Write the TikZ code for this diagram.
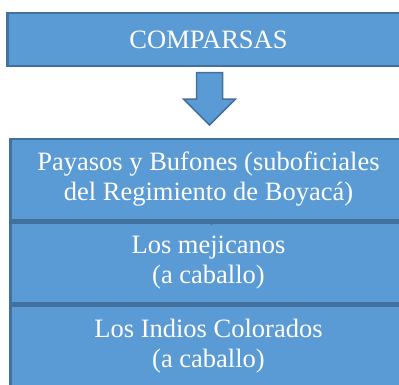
\documentclass[tikz,border=0pt]{standalone}
\usepackage{fontspec}
\setmainfont{Liberation Serif}
\newfontfamily\timesfont{Liberation Serif}
\usetikzlibrary{positioning}
\definecolor{azul}{HTML}{5B9BD5}
\definecolor{borde}{HTML}{41719C}

\begin{document}
\begin{tikzpicture}[x=1pt,y=-1pt,
        caja/.style={draw=borde,
            fill=azul,
            line width=2.5pt,
            text=white,
            align=center,
            minimum width=396pt,
            font=\timesfont\fontsize{26.5}{30}\selectfont}]

        \useasboundingbox (0,0) rectangle (399,384);
        \clip (0,0) rectangle (399,384);

        % Title box
        \node [caja,
            minimum width=402pt,
            minimum height=53pt] (comparsas) at (208.5,39.5) {COMPARSAS};

        % Down arrow
        \draw [draw=borde, fill=azul, line width=1.5pt, line join=miter]
            (196.5,72.5) -- (222.5,72.5) -- (222.5,99) -- (235.5,99)
            -- (209.5,125) -- (183.5,99) -- (196.5,99) -- cycle;

        % List of comparsas
        \node [caja,
            minimum height=81pt,
            anchor=north] (payasos) at (208.5,137.5)
            {Payasos y Bufones (suboficiales\\del Regimiento de Boyacá)};

        \node [caja,
            minimum height=81pt,
            below=0pt of payasos] (mejicanos)
            {Los mejicanos\\(a caballo)};

        \node [caja,
            minimum height=81pt,
            below=0pt of mejicanos] (indios)
            {Los Indios Colorados\\(a caballo)};

        % Small marker between the first two
        \fill [borde] ([xshift=3pt]payasos.south) ++(-4,0) -- ++(8,0) -- ++(-4,4) -- cycle;

\end{tikzpicture}
\end{document}
